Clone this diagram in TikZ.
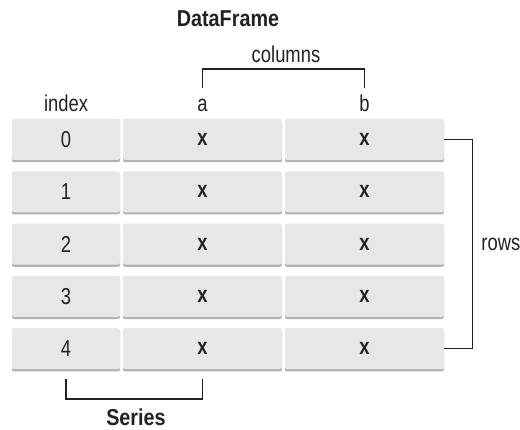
\documentclass[tikz,border=0pt]{standalone}
\usepackage{fontspec}
\setmainfont{Liberation Sans}[FakeStretch=0.8]
\newfontfamily\titlefont{Liberation Sans}[FakeStretch=0.86]
\usetikzlibrary{shadows}
\definecolor{boxfill}{HTML}{E7E7E7}
\definecolor{boxshadow}{HTML}{B2B2B2}
\definecolor{ink}{HTML}{222222}
\begin{document}
\begin{tikzpicture}[x=1pt,y=-1pt,
  cell/.style={rectangle, rounded corners=2pt, fill=boxfill, minimum height=41pt,
    inner sep=0pt, text=ink, font=\fontsize{23}{27}\selectfont,
    drop shadow={shadow xshift=0pt, shadow yshift=-2.2pt, fill=boxshadow, opacity=1}},
  idxcell/.style={cell, minimum width=108pt},
  datcell/.style={cell, minimum width=159pt, font=\fontsize{23}{27}\selectfont\bfseries},
  lbl/.style={anchor=base, inner sep=0pt, text=ink, font=\fontsize{23}{27}\selectfont},
  title/.style={anchor=base, inner sep=0pt, text=ink, font=\titlefont\fontsize{23}{27}\selectfont\bfseries},
  bracket/.style={draw=ink, line width=1.2pt}]
\useasboundingbox (0,0) rectangle (520,430);
\foreach \r in {0,...,4}{
  \pgfmathsetmacro\yc{139.5+52.3*\r}
  \node[idxcell] (i\r) at (66,\yc) {\r};
  \node[datcell] (a\r) at (202.5,\yc) {x};
  \node[datcell] (b\r) at (364.5,\yc) {x};
}
\node[title] (df) at (228,27) {DataFrame};
\node[lbl] (lidx) at (66,112) {index};
\node[lbl] (la) at (202.5,112) {a};
\node[lbl] (lb) at (364.5,112) {b};
\node[lbl] (cols) at (286,63) {columns};
\draw[bracket] (a0 |- 0,88) -- (a0 |- 0,69) -- (b0 |- 0,69) -- (b0 |- 0,88);
\draw[bracket] (b0.east) -- ([xshift=28pt]b0.east) coordinate (rt) |- (b4.east);
\node[anchor=west, inner sep=0pt, text=ink, font=\fontsize{23}{27}\selectfont] (rows) at ([xshift=9pt]rt |- b2.center) {rows};
\draw[bracket] (i4 |- 0,379) -- (i4 |- 0,399) -- (a4 |- 0,399) -- (a4 |- 0,379);
\node[title] (ser) at (136,426) {Series};
\end{tikzpicture}
\end{document}
